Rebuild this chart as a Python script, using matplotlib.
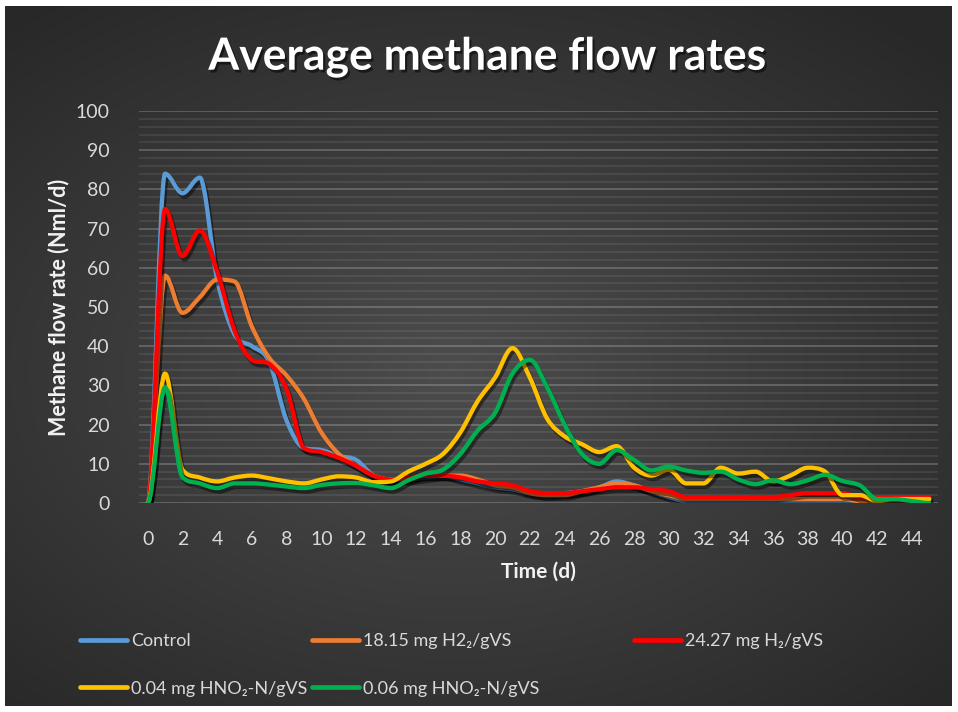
import numpy as np
import matplotlib
matplotlib.use("Agg")
import matplotlib.pyplot as plt
from matplotlib.path import Path
from matplotlib.patches import PathPatch
from matplotlib.lines import Line2D
import matplotlib.patheffects as pe

plt.rcParams['font.family'] = ['Lato', 'DejaVu Sans']

days = np.arange(0, 46)

control = [0, 84, 79, 83, 57, 43, 40, 36, 21, 14, 13.5, 12, 11, 7, 6, 6, 6.5, 7,
           6, 5, 4, 3.5, 2.5, 2, 2.5, 3, 4, 5.5, 4.5, 3, 1.5, 0.5, 0.5, 0.5, 0.5,
           0.5, 0.5, 0.5, 0.5, 0.5, 0.5, 0.5, 0, 0, 0, 0]
h2_18 = [0, 58, 48.5, 52.5, 57, 56.5, 45, 37, 32.5, 26.5, 18, 12.5, 9.5, 7, 6,
         6.5, 7, 7, 7, 6, 4.5, 4, 2.5, 2, 2, 3, 4, 5, 4.5, 3, 2, 1, 1, 1, 1, 1,
         1, 1, 1, 1, 1, 0.5, 0.5, 0.5, 0.5, 0.5]
h2_24 = [0, 75, 63, 69.5, 59, 44, 36.5, 35.5, 29, 14, 13, 11.5, 9.5, 7, 6, 6.5,
         7, 7, 6.5, 5.5, 5, 4.5, 3, 2.5, 2.5, 3, 3.5, 4, 4, 3.5, 3, 1.5, 1.5, 1.5,
         1.5, 1.5, 1.5, 2, 2.5, 2.5, 2.5, 1.5, 1.5, 1.5, 1.5, 1.5]
hno2_004 = [0, 33, 8.5, 6.5, 5.5, 6.5, 7, 6.3, 5.5, 5, 6, 6.8, 6.5, 5.3, 5.5, 8,
            10, 12.5, 18, 26, 32, 39.5, 32, 21.5, 17, 15, 13, 14.5, 9, 7, 8.5, 5,
            5, 9, 7.5, 8, 5.5, 7, 9, 8, 2, 2, 0.5, 1, 1, 1]
hno2_006 = [0, 29.5, 6.6, 5, 3.8, 5, 5, 4.7, 4.2, 3.8, 4.6, 5, 5.1, 4.5, 3.8,
            5.8, 7.5, 8.5, 12.5, 18.5, 23, 33, 36.5, 29.5, 20, 12.5, 10, 13.5, 11,
            8.3, 9.3, 8.3, 7.7, 8, 6, 4.8, 5.8, 4.8, 5.8, 7.2, 5.6, 4.5, 1, 1,
            0.5, 0]

series = [control, h2_18, h2_24, hno2_004, hno2_006]
labels = ['Control', '18.15 mg H2\u2082/gVS', '24.27 mg H\u2082/gVS',
          '0.04 mg HNO\u2082-N/gVS', '0.06 mg HNO\u2082-N/gVS']
colors = ['#5b9bd5', '#ed7d31', '#ff0000', '#ffc000', '#00b050']


def smooth_path(x, y):
    # cubic bezier through every point; flat tangent at local peaks/dips
    x = np.asarray(x, float)
    y = np.asarray(y, float)
    n = len(x)
    ty = np.zeros(n)
    for i in range(1, n - 1):
        d0 = y[i] - y[i - 1]
        d1 = y[i + 1] - y[i]
        if d0 * d1 > 0:
            ty[i] = (y[i + 1] - y[i - 1]) / 2
            ty[i] = np.sign(ty[i]) * min(abs(ty[i]), 3 * abs(d0), 3 * abs(d1))
    verts = [(x[0], y[0])]
    codes = [Path.MOVETO]
    for i in range(n - 1):
        h = x[i + 1] - x[i]
        verts += [(x[i] + h / 3, y[i] + ty[i] / 3),
                  (x[i + 1] - h / 3, y[i + 1] - ty[i + 1] / 3),
                  (x[i + 1], y[i + 1])]
        codes += [Path.CURVE4] * 3
    return Path(verts, codes)


fig = plt.figure(figsize=(9.58, 7.12), dpi=100, facecolor='white')

# dark radial background
bg = fig.add_axes([5 / 958, 6 / 712, 947 / 958, 700 / 712])
gx, gy = np.meshgrid(np.linspace(-1, 1, 400), np.linspace(-1, 1, 300))
r = np.sqrt(((gx + 0.05) / 1.1) ** 2 + ((gy - 0.05) / 1.0) ** 2)
shade = 0.30 - 0.14 * np.clip(r, 0, 1.3) / 1.3
bg.imshow(np.dstack([shade] * 3), aspect='auto', extent=[0, 1, 0, 1],
          interpolation='bilinear')
bg.set_axis_off()

ax = fig.add_axes([139 / 958, 209 / 712, 799 / 958, 392 / 712])
ax.set_facecolor('none')

for vals, col, lab in zip(series, colors, labels):
    patch = PathPatch(smooth_path(days, vals), fill=False, edgecolor=col, lw=3.1,
                      capstyle='round', joinstyle='round', label=lab)
    patch.set_path_effects([pe.SimpleLineShadow(offset=(1.5, -2.5), shadow_color='black',
                                                alpha=0.45), pe.Normal()])
    ax.add_patch(patch)

ax.set_xlim(-0.5, 45.5)
ax.set_ylim(0, 100)
ax.set_xticks(np.arange(0, 45, 2))
ax.set_yticks(np.arange(0, 101, 10))
ax.set_yticks(np.arange(0, 101, 2), minor=True)
ax.grid(True, which='major', axis='y', color='white', alpha=0.22, lw=1.3)
ax.grid(True, which='minor', axis='y', color='white', alpha=0.1, lw=1.1)
ax.set_axisbelow(True)
for s in ax.spines.values():
    s.set_visible(False)
ax.tick_params(axis='both', which='both', length=0, labelsize=14, colors='#d9d9d9')
ax.tick_params(axis='y', pad=21)
ax.tick_params(axis='x', pad=20)

ax.set_xlabel('Time (d)', fontsize=15, fontweight='bold', color='#f2f2f2')
ax.xaxis.set_label_coords(0.5, -0.15)
ax.set_ylabel('Methane flow rate (Nml/d)', fontsize=15.5, fontweight='bold', color='#f2f2f2')
ax.yaxis.set_label_coords(-0.087, 0.5)

fig.text(0.509, 0.92, 'Average methane flow rates', ha='center', va='center',
         fontsize=32, fontweight='bold', color='white',
         path_effects=[pe.withSimplePatchShadow(offset=(1.5, -2), shadow_rgbFace='black',
                                                alpha=0.5)])

handles = [Line2D([], [], color=c, lw=3.4, solid_capstyle='round') for c in colors]
columns = [([0, 3], 80), ([1, 4], 312), ([2], 634)]
for idx, xpx in columns:
    leg = fig.legend([handles[i] for i in idx], [labels[i] for i in idx],
                     loc='upper left', bbox_to_anchor=(xpx / 958, 1 - 633 / 712),
                     frameon=False, fontsize=13, labelcolor='#d9d9d9',
                     handlelength=2.6, handletextpad=0.25, borderpad=0,
                     borderaxespad=0, labelspacing=1.75)

fig.savefig('out.png', dpi=100, facecolor='white')
